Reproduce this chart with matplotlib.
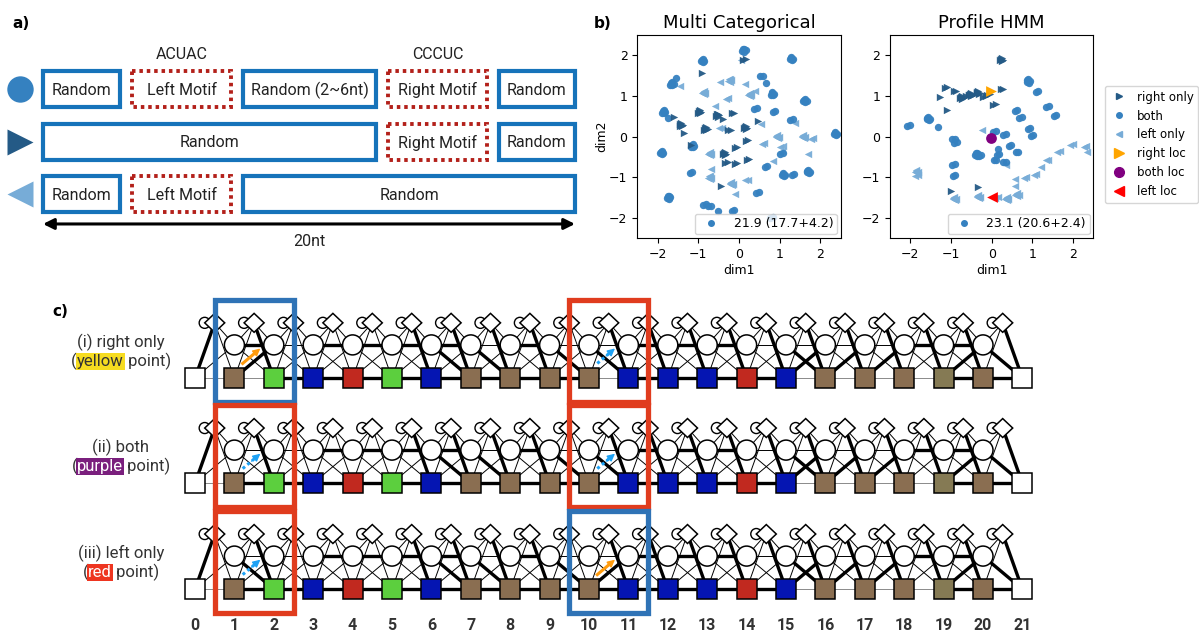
import numpy as np
import matplotlib.pyplot as plt
from matplotlib.patches import Rectangle, Circle, Polygon, FancyArrowPatch
from matplotlib.lines import Line2D

W, H = 1199, 635

# ---------- panel a : sequence designs ----------
seq_len = 20
motif_names = ["ACUAC", "CCCUC"]
design_labels = [
    ["Random", "Left Motif", "Random (2~6nt)", "Right Motif", "Random"],
    ["Random", "Right Motif", "Random"],
    ["Random", "Left Motif", "Random"],
]
design_spans = [
    [(0.0, 2.91), (3.35, 7.07), (7.52, 12.52), (12.97, 16.69), (17.14, 20.0)],
    [(0.0, 12.52), (12.97, 16.69), (17.14, 20.0)],
    [(0.0, 2.91), (3.35, 7.07), (7.52, 20.0)],
]

# ---------- panel b : embeddings (cluster centre x, y, cluster size 1-3) ----------
mc_right_x = [0.14, -0.91, -0.97, -0.52, -0.15, -0.40, -1.42, -1.34, -0.81, -0.23, 0.16, 0.47,
              0.20, -0.07, -0.35, -0.31, -0.07, 0.22, -1.18, -0.44, -1.60]
mc_right_y = [1.89, 1.56, 0.61, 0.53, 0.57, 0.43, 0.29, 0.08, 0.19, 0.15, 0.23, 0.39,
              -0.10, -0.29, -0.41, -0.66, -0.67, -0.57, -0.20, -1.23, 0.48]
mc_right_n = [2, 1, 3, 3, 2, 1, 3, 1, 3, 2, 3, 1, 2, 2, 3, 2, 2, 2, 1, 1, 1]

mc_both_x = [0.12, -0.89, 1.29, -1.55, -1.65, 0.55, 0.66, 0.82, 1.62, -1.85, -1.74, 0.41, 0.86,
             1.29, 2.37, -1.90, -1.14, 1.05, -1.18, 0.66, 1.09, 1.33, 1.70, 0.45, -1.73, -0.85,
             -0.72, -0.15, -0.52, 0.80]
mc_both_y = [2.13, 1.87, 1.93, 1.45, 1.30, 1.48, 1.31, 1.05, 0.89, 0.61, 0.45, 0.67, 0.61,
             0.41, 0.07, -0.39, -0.23, -0.43, -0.89, -0.75, -0.93, -0.94, -0.86, -1.39, -1.49,
             -1.68, -1.72, -1.84, -1.84, -2.00]
mc_both_n = [3, 3, 3, 1, 3, 2, 1, 3, 3, 3, 1, 2, 2, 2, 3, 3, 3, 2, 2, 2, 3, 2, 3, 2, 3, 2, 2,
             2, 1, 2]

mc_left_x = [-0.23, -0.46, 0.14, -0.87, 0.26, 0.39, -0.29, -1.45, -0.58, -0.46, 0.55, 1.38,
             0.94, 1.58, 1.79, 1.05, 0.59, -0.72, -0.68, -0.72, -0.19, 0.18, -0.11, 1.70, 0.84,
             0.05, 1.05]
mc_left_y = [1.39, 1.34, 1.30, 1.08, 1.04, 1.12, 0.93, 1.25, 0.75, 0.20, 0.30, 0.33, 0.00,
             0.00, -0.06, -0.25, -0.19, -0.41, -0.80, -1.00, -1.15, -1.08, -1.41, -0.43, -0.61,
             1.89, -0.35]
mc_left_n = [3, 1, 1, 3, 3, 1, 2, 1, 1, 2, 1, 1, 3, 3, 2, 2, 2, 3, 1, 3, 3, 2, 1, 1, 1, 1, 1]

hmm_right_x = [0.25, -1.13, -0.90, -1.27, -0.74, -0.51, -0.33, -0.18, -0.08, 0.07, 0.25, -1.11,
               -0.99, -0.33, -0.60]
hmm_right_y = [1.90, 1.19, 1.11, 0.97, 0.96, 1.04, 1.08, 0.98, 1.02, 0.78, 1.16, 0.66,
               -1.35, -1.25, 1.00]
hmm_right_n = [3, 2, 2, 1, 3, 3, 3, 2, 2, 2, 2, 1, 1, 1, 2]

hmm_both_x = [-2.05, -1.56, -1.31, -0.94, -0.89, -0.37, -0.29, 0.07, 0.31, 0.15, 0.15, 0.45,
              0.62, 0.08, 0.31, 0.60, 0.71, 0.90, 1.12, 1.37, 1.56, 0.92, 0.99, -0.94, -0.92]
hmm_both_y = [0.26, 0.45, 0.23, -0.07, -0.16, -0.43, -0.48, 0.12, 0.04, -0.31, -0.45, -0.23,
              -0.39, -0.59, -0.64, 0.63, 0.46, 1.37, 1.10, 0.72, 0.51, 0.18, 0.02, -0.70, -0.97]
hmm_both_n = [2, 3, 1, 2, 2, 3, 2, 2, 2, 1, 2, 2, 2, 2, 2, 2, 2, 3, 2, 2, 2, 2, 2, 2, 2]

hmm_left_x = [-1.85, -1.85, -0.92, -0.33, 0.12, 0.37, 0.62, 0.58, 0.82, 1.07, 1.36, 1.64, 1.96,
              2.30, 2.34, -0.23, 0.35, 0.58, 1.20]
hmm_left_y = [-0.86, -0.98, -1.52, -1.48, -1.52, -1.52, -1.43, -1.23, -1.02, -0.94, -0.59,
              -0.37, -0.20, -0.25, -0.37, 0.16, -0.70, -1.05, -0.75]
hmm_left_n = [3, 2, 3, 3, 2, 3, 3, 1, 2, 2, 2, 2, 2, 2, 1, 1, 1, 1, 1]

loc_x = [-0.02, -0.02, 0.00]
loc_y = [1.11, -0.04, -1.48]
loc_labels = ["right loc", "both loc", "left loc"]

panel_titles = ["Multi Categorical", "Profile HMM"]
panel_scores = ["21.9 (17.7+4.2)", "23.1 (20.6+2.4)"]

# ---------- panel c : profile HMM states ----------
node_pos = list(range(22))
node_colors = ["white", "brown", "green", "blue", "red", "green", "blue", "brown", "brown",
               "brown", "brown", "blue", "blue", "blue", "red", "blue", "brown", "brown",
               "brown", "olive", "brown", "white"]
row_titles = ["(i) right only", "(ii) both", "(iii) left only"]
row_words = ["yellow", "purple", "red"]
box_pairs = [(1, 2), (10, 11)]
box_kinds = [["blue", "red"], ["red", "red"], ["red", "blue"]]
arrow_kinds = [["orange", "blue"], ["blue", "blue"], ["blue", "orange"]]

# strong transitions (index of the source position) for each row
mm_thick = [[2, 3, 4, 5, 6, 7, 8, 9, 11, 12, 13, 14, 19, 20],
            [1, 2, 3, 4, 5, 6, 7, 8, 9, 10, 11, 12, 13, 14, 19, 20],
            [1, 2, 3, 4, 5, 6, 7, 8, 9, 10, 11, 12, 13, 14, 19, 20]]
dd_thick = [[1, 3, 4, 5, 6, 8, 11, 12, 13, 18, 19],
            [3, 4, 5, 6, 8, 11, 12, 13, 18, 19],
            [3, 4, 5, 6, 8, 11, 12, 13, 18, 19]]
im_thick = [[1, 5, 6, 7, 8, 10, 11, 12, 13, 14, 15, 16, 17, 18, 19, 20]] * 3
mi_thick = [[0], [0], [0]]
md_thick = [[1, 15, 16, 17, 19], [15, 16, 17, 19], [10, 15, 16, 17, 19]]
dm_thick = [[6, 7, 9, 10, 15, 20], [6, 7, 9, 10, 15, 20], [1, 6, 7, 9, 15, 20]]

# ---------- styles ----------
TXT = "Roboto"
c_right, c_both, c_left = "#245a86", "#3581c0", "#77acd7"
state_rgb = {"white": "white", "brown": "#8a6e51", "olive": "#857a54", "green": "#5ccf3e",
             "blue": "#0515b2", "red": "#c1291f"}
frame_rgb = {"blue": "#2f73b6", "red": "#e03c1e"}
arrow_rgb = {"orange": "#ff9b0d", "blue": "#1ea2f5"}
word_bg = {"yellow": "#f6dc20", "purple": "#7a1f7d", "red": "#ee3520"}
word_fg = {"yellow": "#333333", "purple": "white", "red": "white"}
# how a cluster of overlapping points is drawn (offsets in data units)
blob = {1: [(0, 0)],
        2: [(-0.03, 0.0), (0.03, 0.02)],
        3: [(-0.04, -0.02), (0.04, -0.01), (0.0, 0.035), (0.01, -0.04), (-0.02, 0.015)]}

plt.rcParams["font.family"] = ["DejaVu Sans"]
fig = plt.figure(figsize=(W / 100, H / 100), dpi=100)

# ================= panel a =================
axa = fig.add_axes([0, 1 - 265 / H, 600 / W, 265 / H])
axa.set_xlim(-43 / 26.6, (600 - 43) / 26.6)
axa.set_ylim((265 - 89.3) / 52.4, -89.3 / 52.4)
axa.axis("off")
for r, (labels, spans) in enumerate(zip(design_labels, design_spans)):
    for lab, (s, e) in zip(labels, spans):
        if "Motif" in lab:
            rect = Rectangle((s, r - 0.34), e - s, 0.68, fill=False, ec="#b3201a", lw=2.8,
                             ls=(0, (0.9, 1.0)))
        else:
            rect = Rectangle((s, r - 0.34), e - s, 0.68, fill=False, ec="#1673ba", lw=3.0)
        axa.add_patch(rect)
        axa.text((s + e) / 2, r + 0.02, lab, ha="center", va="center", fontsize=11.5,
                 family=TXT, color="#222222")
for name, (s, e) in zip(motif_names, [design_spans[0][1], design_spans[0][3]]):
    axa.text((s + e) / 2, -0.67, name, ha="center", va="center", fontsize=11.5, family=TXT,
             color="#222222")
for r, (m, c) in enumerate(zip(["o", ">", "<"], [c_both, c_right, c_left])):
    axa.plot(-0.88, r, marker=m, ms=19, color=c, mec="none")
axa.annotate("", xy=(0, 2.57), xytext=(seq_len, 2.57),
             arrowprops=dict(arrowstyle="<|-|>", lw=2.2, color="black", mutation_scale=16,
                             shrinkA=0, shrinkB=0))
axa.text(seq_len / 2, 2.91, "%dnt" % seq_len, ha="center", va="center", fontsize=11.5,
         family=TXT, color="#222222")
fig.text(12 / W, 1 - 23 / H, "a)", fontsize=11, fontweight="bold", va="center")
fig.text(594 / W, 1 - 23 / H, "b)", fontsize=11, fontweight="bold", va="center")
fig.text(52 / W, 1 - 312 / H, "c)", fontsize=11, fontweight="bold", va="center")

# ================= panel b =================
def scatter_clusters(ax, xs, ys, ns, marker, color, s):
    px, py = [], []
    for x, y, n in zip(xs, ys, ns):
        for dx, dy in blob[n]:
            px.append(x + dx)
            py.append(y + dy)
    ax.scatter(px, py, s=s, marker=marker, color=color, lw=0, alpha=0.95)


panels = [
    (mc_right_x, mc_right_y, mc_right_n, mc_both_x, mc_both_y, mc_both_n,
     mc_left_x, mc_left_y, mc_left_n),
    (hmm_right_x, hmm_right_y, hmm_right_n, hmm_both_x, hmm_both_y, hmm_both_n,
     hmm_left_x, hmm_left_y, hmm_left_n),
]
for i, pdata in enumerate(panels):
    left_px = [637.3, 890.0][i]
    ax = fig.add_axes([left_px / W, 1 - 238 / H, 203.4 / W, 203 / H])
    rx, ry, rn, bx, by, bn, lx, ly, ln = pdata
    scatter_clusters(ax, lx, ly, ln, "<", c_left, 28)
    scatter_clusters(ax, bx, by, bn, "o", c_both, 28)
    scatter_clusters(ax, rx, ry, rn, ">", c_right, 28)
    if i == 1:
        ax.scatter(loc_x[0], loc_y[0], s=60, marker=">", color="#ffa500", lw=0, zorder=5)
        ax.scatter(loc_x[1], loc_y[1], s=60, marker="o", color="#800080", lw=0, zorder=5)
        ax.scatter(loc_x[2], loc_y[2], s=60, marker="<", color="#ff0000", lw=0, zorder=5)
    ax.set_xlim(-2.5, 2.5)
    ax.set_ylim(-2.5, 2.5)
    ax.set_xticks([-2, -1, 0, 1, 2])
    ax.set_yticks([-2, -1, 0, 1, 2])
    ax.tick_params(labelsize=9)
    ax.set_title(panel_titles[i], fontsize=13, pad=5)
    ax.set_xlabel("dim1", fontsize=9, labelpad=2)
    if i == 0:
        ax.set_ylabel("dim2", fontsize=9, labelpad=1)
    h = Line2D([], [], ls="none", marker="o", ms=4, color=c_both)
    ax.legend([h], [panel_scores[i]], loc="lower right", fontsize=9, borderaxespad=0.3,
              handletextpad=0.8, borderpad=0.3)

handles = [Line2D([], [], ls="none", marker=">", ms=4, color=c_right),
           Line2D([], [], ls="none", marker="o", ms=4, color=c_both),
           Line2D([], [], ls="none", marker="<", ms=4, color=c_left),
           Line2D([], [], ls="none", marker=">", ms=7, color="#ffa500"),
           Line2D([], [], ls="none", marker="o", ms=7, color="#800080"),
           Line2D([], [], ls="none", marker="<", ms=7, color="#ff0000")]
fig.legend(handles, ["right only", "both", "left only"] + loc_labels, loc="upper left",
           bbox_to_anchor=(1099 / W, 1 - 80 / H), fontsize=8.5, handletextpad=0.7,
           handlelength=1.6, labelspacing=0.5, borderpad=0.4)

# ================= panel c =================
U = 39.4
axc = fig.add_axes([0, 0, 1, 345 / H])
axc.set_xlim(-195 / U, (W - 195) / U)
axc.set_ylim(-(635 - 378) / U, (378 - 290) / U)
axc.axis("off")
row_y = [0.0, -2.67, -5.36]
D_OFF, I_OFF, HS = 0.84, 1.40, 0.254
last = node_pos[-1]


def edge(p, q, thick, gray=False):
    col = "#8a8a8a" if (gray and not thick) else "black"
    axc.plot([p[0], q[0]], [p[1], q[1]], color=col, lw=2.4 if thick else 0.7,
             solid_capstyle="butt", zorder=1)


for r, Y in enumerate(row_y):
    M = lambda k: (k, Y)
    D = lambda k: (k, Y + D_OFF)
    I = lambda k: (k + 0.5, Y + I_OFF)
    for k in node_pos[:-1]:
        edge(M(k), M(k + 1), k in mm_thick[r], gray=True)
        edge(M(k), I(k), k in mi_thick[r])
        edge(I(k), M(k + 1), k in im_thick[r])
        if k + 1 < last:
            edge(M(k), D(k + 1), k in md_thick[r])
            edge(I(k), D(k + 1), False)
        if k >= 1:
            edge(D(k), M(k + 1), k in dm_thick[r])
            edge(D(k), I(k), False)
            if k + 1 < last:
                edge(D(k), D(k + 1), k in dd_thick[r])
    for k in node_pos:
        axc.add_patch(Rectangle((k - HS, Y - HS), 2 * HS, 2 * HS,
                                fc=state_rgb[node_colors[k]], ec="black", lw=1.1, zorder=3))
        if 0 < k < last:
            axc.add_patch(Circle(D(k), HS, fc="white", ec="black", lw=1.1, zorder=3))
        if k < last:
            ix, iy = I(k)
            axc.add_patch(Circle((ix - HS, iy), 0.14, fc="none", ec="black", lw=1.0, zorder=3))
            axc.add_patch(Polygon([(ix - HS, iy), (ix, iy + 0.24), (ix + HS, iy),
                                   (ix, iy - 0.24)], closed=True, fc="white", ec="black",
                                  lw=1.1, zorder=4))
    for (k0, k1), kind in zip(box_pairs, box_kinds[r]):
        axc.add_patch(Rectangle((k0 - 0.5, Y - 0.61), k1 - k0 + 1, 2.59, fill=False,
                                ec=frame_rgb[kind], lw=3.8, zorder=5))
    for (k0, k1), kind in zip(box_pairs, arrow_kinds[r]):
        x0, y0 = k0 + 0.21, Y + 0.37
        x1, y1 = k1 - 0.34, Y + 0.75
        axc.plot([x0, x0 + 0.7 * (x1 - x0)], [y0, y0 + 0.7 * (y1 - y0)],
                 color=arrow_rgb[kind], lw=2.2, ls="-" if kind == "orange" else (0, (1, 1)),
                 zorder=6)
        axc.add_patch(FancyArrowPatch((x0 + 0.5 * (x1 - x0), y0 + 0.5 * (y1 - y0)), (x1, y1),
                                      arrowstyle="-|>", mutation_scale=11,
                                      color=arrow_rgb[kind], lw=1.0, zorder=6,
                                      shrinkA=0, shrinkB=0))

for k in node_pos:
    axc.text(k, -6.29, str(k), ha="center", va="center", fontsize=11.5, fontweight="bold",
             family=TXT, color="#333333")

# row labels, second line has a highlighted colour word
renderer = fig.canvas.get_renderer()
inv = axc.transData.inverted()
label_cx = -1.88
for r, Y in enumerate(row_y):
    axc.text(label_cx, Y + 0.91, row_titles[r], ha="center", va="center", fontsize=12,
             family=TXT, color="#333333")
    word = row_words[r]
    parts = [("(", None), (word, word), (" point)", None)]
    x = label_cx
    texts = []
    for s, hl in parts:
        kw = {}
        if hl:
            kw["bbox"] = dict(boxstyle="square,pad=0.06", fc=word_bg[hl], ec="none")
        t = axc.text(x, Y + 0.30, s, ha="left", va="baseline", fontsize=12, family=TXT,
                     color=word_fg[hl] if hl else "#333333", **kw)
        bb = t.get_window_extent(renderer)
        x = inv.transform((bb.x1, 0))[0]
        texts.append(t)
    shift = label_cx - (label_cx + x) / 2
    for t in texts:
        t.set_x(t.get_position()[0] + shift)

fig.savefig("out.png", dpi=100)
